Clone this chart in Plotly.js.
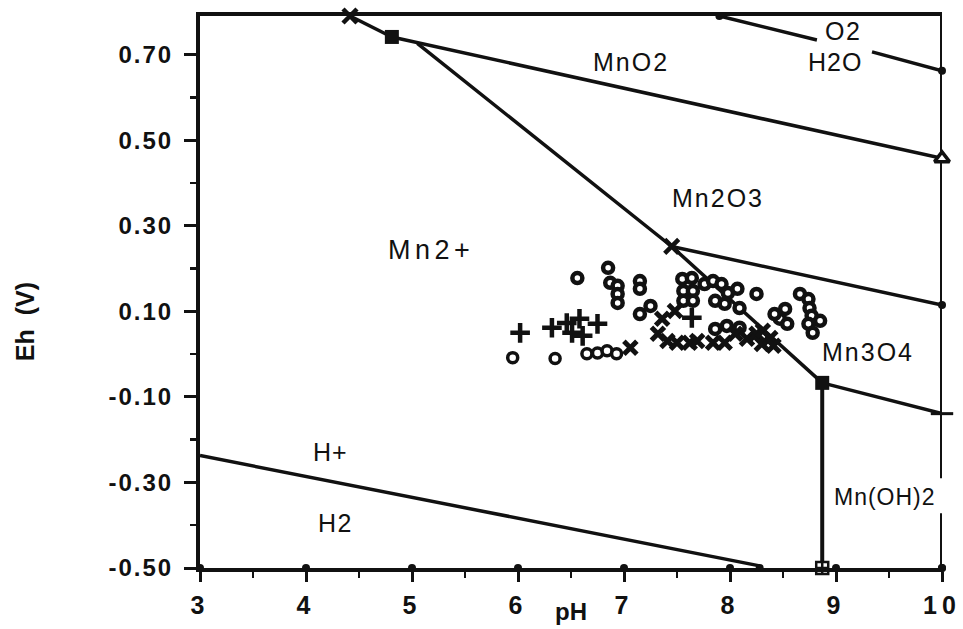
<!DOCTYPE html>
<html>
<head>
<meta charset="utf-8">
<script src="https://cdn.plot.ly/plotly-3.0.1.min.js"></script>
<style>html,body{margin:0;padding:0;background:#fff;}#chart{width:963px;height:629px;}</style>
</head>
<body>
<div id="chart"></div>
<script>
// ---- axis settings ----
const xTicks = [3, 4, 5, 6, 7, 8, 9, 10];
const yTicks = [-0.5, -0.3, -0.1, 0.1, 0.3, 0.5, 0.7];
const yTickText = ['-0.50', '-0.30', '-0.10', '0.10', '0.30', '0.50', '0.70'];
const yTop = 0.791;
const yBottom = -0.5;

// ---- stability-field boundaries (pH, Eh) ----
const o2h2oA_x = [7.9, 8.82];      const o2h2oA_y = [yTop, 0.735];
const o2h2oB_x = [9.34, 10];       const o2h2oB_y = [0.707, 0.663];
const mn2MnO2_x = [4.415, 4.81];   const mn2MnO2_y = [yTop, 0.742];
const mnO2Mn2O3_x = [4.81, 10];    const mnO2Mn2O3_y = [0.742, 0.458];
const mn2Mn2O3_x = [5.05, 7.45, 8.87]; const mn2Mn2O3_y = [0.727, 0.252, -0.067];
const mn2O3Mn3O4_x = [7.45, 10];   const mn2O3Mn3O4_y = [0.252, 0.115];
const mn3O4MnOH_x = [8.87, 10];    const mn3O4MnOH_y = [-0.067, -0.139];
const mn2MnOH_x = [8.87, 8.87];    const mn2MnOH_y = [-0.067, yBottom];
const hH2_x = [3, 8.28];           const hH2_y = [-0.237, -0.495];
const rightA_x = [10, 10];         const rightA_y = [yBottom, -0.372];
const rightB_x = [10, 10];         const rightB_y = [-0.29, yTop];

// ---- node markers ----
const crossNodes_x = [4.415, 7.45];     const crossNodes_y = [yTop, 0.252];
const squareNodes_x = [4.81, 8.87];     const squareNodes_y = [0.742, -0.067];
const dotNodes_x = [7.9, 10, 10, 10, 8.28]; const dotNodes_y = [yTop, 0.663, 0.115, yBottom, yBottom];
const triNode_x = [10];  const triNode_y = [0.458];
const hatchNode_x = [8.87]; const hatchNode_y = [yBottom];
const dashNode_x = [10]; const dashNode_y = [-0.139];

// ---- measured samples ----
const diaX = [6.56, 6.85, 6.87, 6.94, 6.94, 6.94, 7.15, 7.15, 7.15, 7.25, 7.55, 7.64, 7.56, 7.65, 7.56, 7.65, 7.76, 7.84, 7.92, 7.98, 8.07, 8.25, 7.86, 7.95, 8.09, 7.86, 7.97, 8.09, 8.66, 8.74, 8.75, 8.77, 8.85, 8.74, 8.78, 8.52, 8.47, 8.54, 8.42];
const diaY = [0.178, 0.202, 0.167, 0.160, 0.141, 0.120, 0.171, 0.153, 0.094, 0.113, 0.176, 0.178, 0.148, 0.148, 0.125, 0.125, 0.164, 0.171, 0.164, 0.143, 0.153, 0.141, 0.125, 0.118, 0.108, 0.059, 0.066, 0.062, 0.141, 0.129, 0.108, 0.090, 0.078, 0.071, 0.050, 0.106, 0.083, 0.071, 0.094];
const circX = [5.95, 6.35, 6.65, 6.75, 6.84, 6.93];
const circY = [-0.008, -0.010, 0.001, 0.003, 0.008, 0.001];
const plusX = [6.02, 6.32, 6.46, 6.58, 6.51, 6.61, 6.75, 7.64];
const plusY = [0.050, 0.062, 0.073, 0.083, 0.050, 0.043, 0.071, 0.085];
const xX = [7.06, 7.36, 7.48, 7.32, 7.41, 7.50, 7.62, 7.69, 7.84, 7.95, 8.05, 8.16, 8.25, 8.30, 8.31, 8.38, 8.41];
const xY = [0.015, 0.083, 0.101, 0.048, 0.031, 0.027, 0.027, 0.031, 0.027, 0.027, 0.048, 0.036, 0.048, 0.024, 0.055, 0.038, 0.020];

// ---- field labels ----
const labelText = ['O2', 'H2O', 'MnO2', 'Mn2O3', 'Mn2+', 'Mn3O4', 'Mn(OH)2', 'H+', 'H2'];
const labelX = [9.07, 8.99, 7.07, 7.89, 5.18, 9.30, 9.46, 4.23, 4.28];
const labelY = [0.756, 0.684, 0.684, 0.366, 0.244, 0.005, -0.335, -0.229, -0.395];
const labelSize = [25, 25, 25, 25, 27, 25, 23, 25, 25];
const labelSpacing = [1.5, 1, 2, 2, 4.5, 2, 1, 1, 1.5];

const FONT = 'Liberation Sans, Arial, Helvetica, sans-serif';
const BLK = '#111';

function seg(x, y, w) {
  return {x: x, y: y, mode: 'lines', line: {color: BLK, width: w || 3.5}, hoverinfo: 'skip', cliponaxis: false, showlegend: false};
}
function spaced(t, s) { return '<span style="letter-spacing:' + s + 'px">' + t + '</span>'; }

const traces = [
  seg(o2h2oA_x, o2h2oA_y), seg(o2h2oB_x, o2h2oB_y),
  seg(mn2MnO2_x, mn2MnO2_y), seg(mnO2Mn2O3_x, mnO2Mn2O3_y),
  seg(mn2Mn2O3_x, mn2Mn2O3_y), seg(mn2O3Mn3O4_x, mn2O3Mn3O4_y),
  seg(mn3O4MnOH_x, mn3O4MnOH_y), seg(mn2MnOH_x, mn2MnOH_y, 4),
  seg(hH2_x, hH2_y), seg(rightA_x, rightA_y, 4), seg(rightB_x, rightB_y, 4),
  {x: xTicks, y: xTicks.map(() => yBottom), mode: 'markers', marker: {symbol: 'circle', size: 8, color: BLK}, cliponaxis: false, showlegend: false},
  {x: dotNodes_x, y: dotNodes_y, mode: 'markers', marker: {symbol: 'circle', size: 8, color: BLK}, cliponaxis: false, showlegend: false},
  {x: crossNodes_x, y: crossNodes_y, mode: 'markers', marker: {symbol: 'x-thin', size: 14, line: {color: BLK, width: 4.5}}, cliponaxis: false, showlegend: false},
  {x: squareNodes_x, y: squareNodes_y, mode: 'markers', marker: {symbol: 'square', size: 14, color: BLK}, cliponaxis: false, showlegend: false},
  {x: triNode_x, y: triNode_y, mode: 'markers', marker: {symbol: 'triangle-up', size: 13, color: '#fff', line: {color: BLK, width: 3.5}}, cliponaxis: false, showlegend: false},
  {x: hatchNode_x, y: hatchNode_y, mode: 'markers', marker: {symbol: 'square-cross', size: 12, color: '#fff', line: {color: BLK, width: 2.5}}, cliponaxis: false, showlegend: false},
  {x: dashNode_x, y: dashNode_y, mode: 'markers', marker: {symbol: 'line-ew', size: 16, line: {color: BLK, width: 3}}, cliponaxis: false, showlegend: false},
  {x: diaX, y: diaY, mode: 'markers', marker: {symbol: 'circle', size: 10, color: '#fff', line: {color: BLK, width: 4.5}}, showlegend: false},
  {x: circX, y: circY, mode: 'markers', marker: {symbol: 'circle', size: 10, color: '#fff', line: {color: BLK, width: 3.5}}, showlegend: false},
  {x: plusX, y: plusY, mode: 'markers', marker: {symbol: 'cross-thin', size: 14, line: {color: BLK, width: 4.5}}, showlegend: false},
  {x: xX, y: xY, mode: 'markers', marker: {symbol: 'x-thin', size: 13, line: {color: BLK, width: 5}}, showlegend: false}
];

const annotations = labelText.map((t, i) => ({
  x: labelX[i], y: labelY[i], xref: 'x', yref: 'y', xanchor: 'center', yanchor: 'middle',
  text: spaced(t, labelSpacing[i]), showarrow: false,
  font: {family: FONT, size: labelSize[i], color: BLK}
}));
annotations.push({xref: 'paper', yref: 'paper', x: -0.236, y: 0.447, xanchor: 'center', yanchor: 'middle',
  text: '<b>Eh  (V)</b>', textangle: -90,
  showarrow: false, font: {family: FONT, size: 25, color: BLK}});
annotations.push({xref: 'paper', yref: 'paper', x: 0.5, y: -0.078, xanchor: 'center', yanchor: 'middle',
  text: '<b>pH</b>',
  showarrow: false, font: {family: FONT, size: 24, color: BLK}});

const layout = {
  width: 963, height: 629,
  margin: {l: 200, r: 21, t: 16, b: 61},
  paper_bgcolor: '#fff', plot_bgcolor: '#fff',
  showlegend: false,
  font: {family: FONT, color: BLK},
  xaxis: {
    range: [3, 10], tickvals: xTicks, ticktext: xTicks.map(v => '<b>' + spaced(String(v), 5) + '</b>'),
    ticks: 'outside', ticklen: 10, tickwidth: 3, tickcolor: BLK,
    minor: {dtick: 0.5, tick0: 3, ticks: 'outside', ticklen: 6, tickwidth: 2.5, tickcolor: BLK},
    showline: true, linewidth: 4, linecolor: BLK, mirror: true,
    showgrid: false, zeroline: false,
    tickfont: {family: FONT, size: 25, color: BLK},
    ticklabelstandoff: 2
  },
  yaxis: {
    range: [yBottom, yTop], tickvals: yTicks, ticktext: yTickText.map(t => '<b>' + spaced(t, 2) + '</b>'),
    ticks: 'outside', ticklen: 12, tickwidth: 3, tickcolor: BLK,
    minor: {dtick: 0.1, tick0: -0.5, ticks: 'outside', ticklen: 6, tickwidth: 2.5, tickcolor: BLK},
    showline: true, linewidth: 4, linecolor: BLK, mirror: false,
    showgrid: false, zeroline: false,
    tickfont: {family: FONT, size: 24, color: BLK},
    ticklabelstandoff: 6
  },
  annotations: annotations
};

Plotly.newPlot('chart', traces, layout, {displayModeBar: false, staticPlot: true});
</script>
</body>
</html>
